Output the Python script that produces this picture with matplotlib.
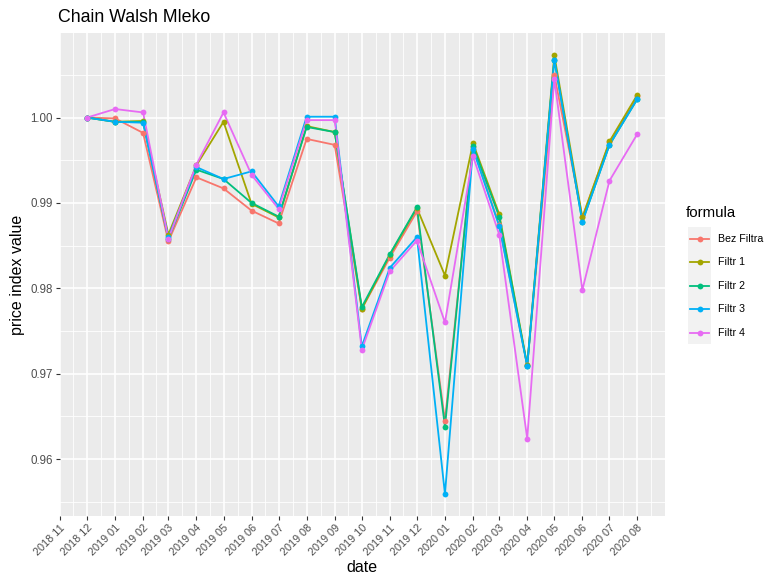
import datetime as dt
import matplotlib
matplotlib.use("Agg")
import matplotlib.pyplot as plt
import matplotlib.dates as mdates
from matplotlib.lines import Line2D
from matplotlib.patches import Rectangle

plt.rcParams["font.family"] = ["Liberation Sans", "DejaVu Sans"]

months = ["2018-12", "2019-01", "2019-02", "2019-03", "2019-04", "2019-05",
          "2019-06", "2019-07", "2019-08", "2019-09", "2019-10", "2019-11",
          "2019-12", "2020-01", "2020-02", "2020-03", "2020-04", "2020-05",
          "2020-06", "2020-07", "2020-08"]

bez_filtra = [1.0000, 0.9999, 0.9982, 0.9855, 0.9930, 0.9917, 0.9891, 0.9876,
              0.9975, 0.9968, 0.9776, 0.9836, 0.9890, 0.9645, 0.9965, 0.9874,
              0.9710, 1.0050, 0.9883, 0.9971, 1.0025]
filtr_1 = [1.0000, 0.9995, 0.9996, 0.9863, 0.9944, 0.9995, 0.9899, 0.9883,
           0.9990, 0.9983, 0.9776, 0.9839, 0.9894, 0.9815, 0.9970, 0.9887,
           0.9710, 1.0073, 0.9883, 0.9972, 1.0027]
filtr_2 = [1.0000, 0.9995, 0.9995, 0.9858, 0.9939, 0.9928, 0.9900, 0.9884,
           0.9989, 0.9983, 0.9778, 0.9840, 0.9895, 0.9638, 0.9967, 0.9884,
           0.9709, 1.0068, 0.9878, 0.9968, 1.0022]
filtr_3 = [1.0000, 0.9995, 0.9994, 0.9860, 0.9942, 0.9928, 0.9937, 0.9896,
           1.0001, 1.0001, 0.9732, 0.9824, 0.9860, 0.9559, 0.9963, 0.9873,
           0.9709, 1.0068, 0.9878, 0.9968, 1.0022]
filtr_4 = [1.0000, 1.0010, 1.0006, 0.9858, 0.9945, 1.0006, 0.9933, 0.9893,
           0.9997, 0.9997, 0.9728, 0.9820, 0.9856, 0.9760, 0.9955, 0.9863,
           0.9624, 1.0045, 0.9798, 0.9926, 0.9981]

series_names = ["Bez Filtra", "Filtr 1", "Filtr 2", "Filtr 3", "Filtr 4"]
series_values = [bez_filtra, filtr_1, filtr_2, filtr_3, filtr_4]
colors = ["#F8766D", "#A3A500", "#00BF7D", "#00B0F6", "#E76BF3"]

tick_months = ["2018-11"] + months
y_ticks = [0.96, 0.97, 0.98, 0.99, 1.00]
y_tick_labels = ["0.96", "0.97", "0.98", "0.99", "1.00"]


def to_date(s):
    y, m = s.split("-")
    return dt.date(int(y), int(m), 1)


dates = [to_date(m) for m in months]
tick_dates = [to_date(m) for m in tick_months]

W, H, DPI = 768, 578, 100
fig = plt.figure(figsize=(W / DPI, H / DPI), dpi=DPI)
fig.patch.set_facecolor("white")

left, right, top, bottom = 59.5, 665.0, 33.3, 516.0
ax = fig.add_axes([left / W, 1 - bottom / H, (right - left) / W, (bottom - top) / H])
ax.set_facecolor("#EBEBEB")

# ggplot-style expansion: 5 % on each side of the data range
xd = mdates.date2num(dates)
xr = xd.max() - xd.min()
ax.set_xlim(xd.min() - 0.05 * xr, xd.max() + 0.05 * xr)
all_vals = [v for s in series_values for v in s]
yr = max(all_vals) - min(all_vals)
ax.set_ylim(min(all_vals) - 0.05 * yr, max(all_vals) + 0.05 * yr)

# grid: major and minor lines in white
tick_nums = mdates.date2num(tick_dates)
minor_x = [(a + b) / 2 for a, b in zip(tick_nums[:-1], tick_nums[1:])]
minor_x.append(tick_nums[-1] + (tick_nums[-1] - tick_nums[-2]) / 2)
for x in minor_x:
    ax.axvline(x, color="white", lw=0.6, zorder=0)
for x in tick_nums:
    ax.axvline(x, color="white", lw=1.2, zorder=0)
minor_y = [0.955, 0.965, 0.975, 0.985, 0.995, 1.005]
for y in minor_y:
    ax.axhline(y, color="white", lw=0.6, zorder=0)
for y in y_ticks:
    ax.axhline(y, color="white", lw=1.2, zorder=0)

for vals, c in zip(series_values, colors):
    ax.plot(dates, vals, color=c, lw=1.3, zorder=2)
for vals, c in zip(series_values, colors):
    ax.plot(dates, vals, linestyle="none", marker="o", ms=4.2, color=c,
            markeredgewidth=0, zorder=3)

ax.set_xticks(tick_dates)
ax.set_xticklabels([m.replace("-", " ") for m in tick_months], rotation=45,
                   ha="right", rotation_mode="anchor", fontsize=7.8, color="#4D4D4D")
ax.set_yticks(y_ticks)
ax.set_yticklabels(y_tick_labels, fontsize=8.3, color="#4D4D4D")
ax.tick_params(axis="both", length=2.8, width=0.8, color="#333333", pad=2)
for sp in ax.spines.values():
    sp.set_visible(False)

ax.set_xlabel("date", fontsize=11.5, color="black", labelpad=2)
ax.set_ylabel("price index value", fontsize=11.5, color="black", labelpad=4)
fig.text(58 / W, 1 - 18 / H, "Chain Walsh Mleko", fontsize=12.8, va="center",
         ha="left", color="black")

# legend
fig.text(686 / W, 1 - 213 / H, "formula", fontsize=10.8, va="center", ha="left")
key_x0, key_x1 = 688, 711
row_y = [239, 262, 286, 309, 332.5]
fig.add_artist(Rectangle((key_x0 / W, 1 - 344 / H), (key_x1 - key_x0) / W,
                         (344 - 227) / H, transform=fig.transFigure,
                         facecolor="#F2F2F2", edgecolor="none"))
for name, c, yy in zip(series_names, colors, row_y):
    yf = 1 - yy / H
    fig.add_artist(Line2D([(key_x0 + 2) / W, (key_x1 - 2) / W], [yf, yf],
                          color=c, lw=1.3, transform=fig.transFigure))
    fig.add_artist(Line2D([(key_x0 + key_x1) / 2 / W], [yf], marker="o", ms=4.2,
                          color=c, markeredgewidth=0, transform=fig.transFigure))
    fig.text(718 / W, yf, name, fontsize=7.7, va="center", ha="left", color="black")

fig.savefig("out.png", dpi=DPI)
